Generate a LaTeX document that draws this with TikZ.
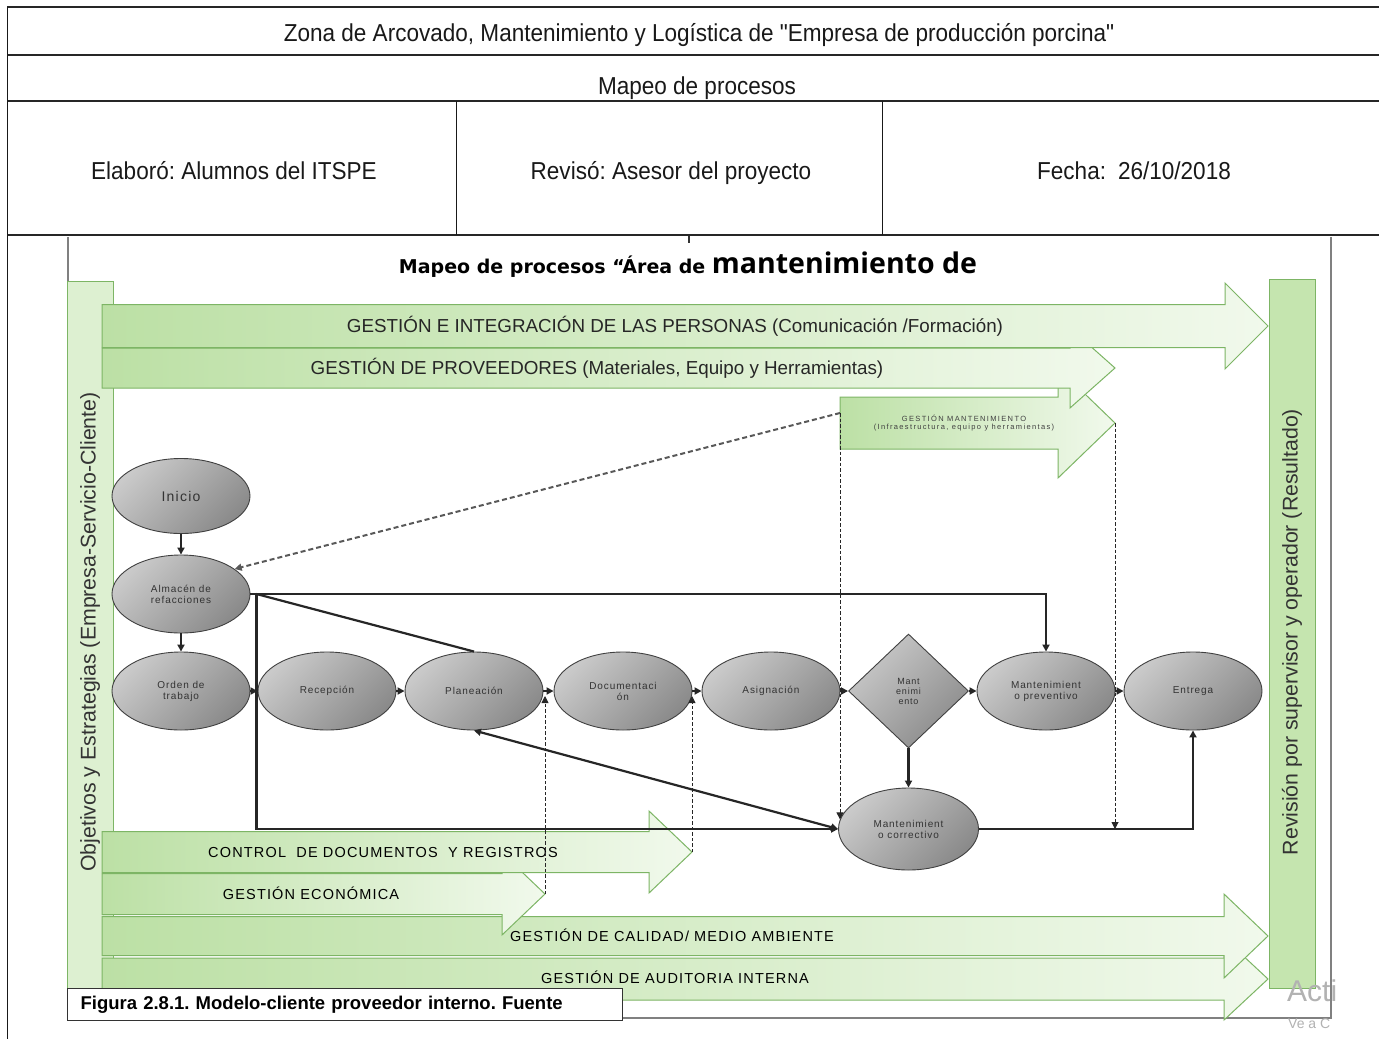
\documentclass[tikz,border=0pt]{standalone}
\usepackage{fontspec}
\setmainfont{Liberation Sans}[Ligatures=TeXOff]
\newfontfamily\headfont{Liberation Sans}[Ligatures=TeXOff,FakeStretch=0.92]
\newfontfamily\titlefont{Open Sans}
\newfontfamily\titlefontb{DejaVu Sans}
\newfontfamily\lsA[LetterSpace=9]{Liberation Sans}
\newfontfamily\lsB[LetterSpace=18]{Liberation Sans}
\newfontfamily\lsC[LetterSpace=8]{Liberation Sans}
\usetikzlibrary{shapes.geometric,arrows.meta}
\definecolor{gdark}{HTML}{BCE0A5}
\definecolor{glight}{HTML}{F1F9EC}
\definecolor{gline}{HTML}{7DB565}
\definecolor{barL}{HTML}{DDF0D1}
\definecolor{barR}{HTML}{C5E5AF}
\definecolor{ovalL}{HTML}{CACACA}
\definecolor{ovalD}{HTML}{8A8A8A}
\newcommand{\blockarrow}[6]{%
  \path[arrowshape] (#1,#4-#5) -- (#2,#4-#5) -- (#2,#4-#6) -- (#3,#4) -- (#2,#4+#6) -- (#2,#4+#5) -- (#1,#4+#5) -- cycle;}
\frenchspacing
\begin{document}
\frenchspacing
\begin{tikzpicture}[x=1pt,y=-1pt,
  every node/.style={inner sep=0pt},
  >={Triangle[length=7pt,width=7pt]},
  hline/.style={draw=black!85,line width=2.2pt},
  vline/.style={draw=black!90,line width=1pt},
  frameline/.style={draw=black!50,line width=2pt},
  arrowshape/.style={left color=gdark,right color=glight,draw=gline,line width=1pt},
  htext/.style={anchor=base,font=\headfont\fontsize{24.5}{28}\selectfont,text=black!90},
  toplabel/.style={font=\fontsize{18.8}{21}\selectfont,text=black!85},
  botlabel/.style={font=\lsC\fontsize{14.5}{16}\selectfont,text=black},
  sidelabel/.style={rotate=90,font=\fontsize{21.3}{23}\selectfont,text=black!80},
  oval/.style={ellipse,draw=black!75,line width=0.9pt,top color=ovalL,bottom color=ovalD,shading angle=45,
    minimum width=138pt,minimum height=78pt,align=center,font=\lsA\fontsize{10}{11}\selectfont,text=black!80},
  decision/.style={diamond,draw=black!75,line width=0.9pt,top color=ovalL,bottom color=ovalD,shading angle=45,
    minimum width=120pt,minimum height=114pt,align=center,font=\lsA\fontsize{9}{10}\selectfont,text=black!80},
  conn/.style={draw=black!85,line width=2.2pt},
  dashA/.style={draw=black!65,line width=2pt,dash pattern=on 5pt off 3pt},
  dashB/.style={draw=black!85,line width=0.9pt,dash pattern=on 3.5pt off 2pt}]
\useasboundingbox (0,0) rectangle (1379,1039);
\fill[white] (0,0) rectangle (1379,1039);

% header table
\draw[hline] (7,7) -- (1379,7);
\draw[hline] (7,55) -- (1379,55);
\draw[hline] (7,101) -- (1379,101);
\draw[hline] (7,235) -- (1379,235);
\draw[vline] (7,7) -- (7,1039);
\draw[vline] (456,101) -- (456,235);
\draw[vline] (882,101) -- (882,235);
\node[htext] (h1) at (699,41) {Zona de Arcovado, Mantenimiento y Logística de "Empresa de producción porcina"};
\node[htext] (h2) at (697,94) {Mapeo de procesos};
\node[htext] (h3) at (234,179) {Elaboró: Alumnos del ITSPE};
\node[htext] (h4) at (671,179) {Revisó: Asesor del proyecto};
\node[htext] (h5) at (1134,179) {Fecha:\hspace{12pt}26/10/2018};

% inner frame
\draw[frameline] (68,237) -- (68,990);
\draw[frameline] (1331,237) -- (1331,1018) -- (622,1018);
\draw[black!80,line width=1.5pt] (689,236) -- (689,243);
\node[anchor=base,text=black] (title) at (688,273) {\titlefontb\bfseries\fontsize{19}{22}\selectfont Mapeo de procesos “Área de \titlefont\fontsize{28.5}{31}\selectfont mantenimiento de};

% side bars
\path[draw=gline,line width=1pt,fill=barL] (67,281) rectangle (113,1000);
\path[draw=gline,line width=1pt,fill=barR] (1269,279) rectangle (1315,988);
\node[sidelabel] (objl) at (90,632) {Objetivos y Estrategias (Empresa-Servicio-Cliente)};
\node[sidelabel] (revl) at (1292,632) {Revisión por supervisor y operador (Resultado)};

% top block arrows
\blockarrow{840}{1058}{1115}{423}{26}{55}
\blockarrow{102}{1070}{1115}{368}{20}{40}
\blockarrow{102}{1225}{1268}{326}{21.5}{43}
\node[toplabel] (l1) at (675,326) {GESTIÓN E INTEGRACIÓN DE LAS PERSONAS (Comunicación /Formación)};
\node[toplabel] (l2) at (597,368) {GESTIÓN DE PROVEEDORES (Materiales, Equipo y Herramientas)};
\node[align=center,font=\lsB\fontsize{7.5}{8.5}\selectfont,text=black!75] (l3) at (964,423) {GESTIÓN MANTENIMIENTO\\(Infraestructura, equipo y herramientas)};

% bottom block arrows
\blockarrow{102}{1224}{1268}{979}{21}{41}
\blockarrow{102}{1224}{1268}{936}{19.5}{42}
\blockarrow{102}{502}{545}{894}{20.5}{41}
\blockarrow{102}{649}{692}{852}{20.5}{41}
\node[botlabel] (l4) at (383,852) {CONTROL\ \ DE DOCUMENTOS\ \ Y REGISTROS};
\node[botlabel] (l5) at (311,893) {GESTIÓN ECONÓMICA};
\node[botlabel] (l6) at (672,935) {GESTIÓN DE CALIDAD/ MEDIO AMBIENTE};
\node[botlabel] (l7) at (675,977) {GESTIÓN DE AUDITORIA INTERNA};

\coordinate (gmL) at (840,413);
\coordinate (gmTip) at (1115,423);
\coordinate (econTip) at (545,894);
\coordinate (ctrlTip) at (692,852);

% process nodes
\node[oval,font=\lsA\fontsize{14}{15}\selectfont,minimum height=75pt] (inicio) at (181,496) {Inicio};
\node[oval] (almacen) at (181,594) {Almacén de\\refacciones};
\node[oval] (orden) at (181,691) {Orden de\\trabajo};
\node[oval] (recep) at (327,691) {Recepción};
\node[oval] (plan) at (474,691) {Planeación};
\node[oval] (doc) at (623,691) {Documentaci\\ón};
\node[oval] (asig) at (771,691) {Asignación};
\node[decision] (mant) at (908.5,691) {Mant\\enimi\\ento};
\node[oval] (prev) at (1046,691) {Mantenimient\\o preventivo};
\node[oval] (entrega) at (1193,691) {Entrega};
\node[oval,minimum width=140pt,minimum height=82pt] (correc) at (908.5,829) {Mantenimient\\o correctivo};

% connectors
\draw[conn,->] (inicio) -- (almacen);
\draw[conn,->] (almacen) -- (orden);
\draw[conn,->] (orden) -- (recep);
\draw[conn,->] (recep) -- (plan);
\draw[conn,->] (plan) -- (doc);
\draw[conn,->] (doc) -- (asig);
\draw[conn,->] (asig) -- (mant);
\draw[conn,->] (mant) -- (prev);
\draw[conn,->] (prev) -- (entrega);
\draw[conn,->] (mant) -- (correc);
\draw[conn,->] (almacen.east) -| (prev.north);
\path (almacen.east) ++(6,0) coordinate (j1);
\draw[conn] (j1) -- (plan.north);
\draw[conn,->] (j1) |- (correc.west);
\draw[conn,<->] (plan.south) -- (correc.west);
\draw[conn,->] (correc.east) -| (entrega.south);

% dashed connectors
\draw[dashA,->] (gmL) -- (almacen.25);
\draw[dashB,->] (gmL) -- (gmL |- correc.172);
\draw[dashB,->] (gmTip) -- (gmTip |- correc.east);
\draw[dashB,->,shorten >=5pt] (econTip) -- (econTip |- doc.west);
\draw[dashB,->,shorten >=5pt] (ctrlTip) -- (ctrlTip |- asig.west);

% caption box
\node[draw=black!80,line width=1.2pt,fill=white,minimum width=555pt,minimum height=32pt,text width=529pt,
  inner xsep=13pt,align=left,anchor=north west,font=\bfseries\fontsize{18.5}{20}\selectfont] (fig) at (67,988)
  {Figura 2.8.1. Modelo-cliente proveedor interno. Fuente};

% watermark
\node[anchor=west,text=black!30,font=\fontsize{30}{32}\selectfont] (wm1) at (1287,991) {Acti};
\node[anchor=west,text=black!30,font=\fontsize{14}{16}\selectfont] (wm2) at (1288,1024) {Ve a C};
\end{tikzpicture}
\end{document}
